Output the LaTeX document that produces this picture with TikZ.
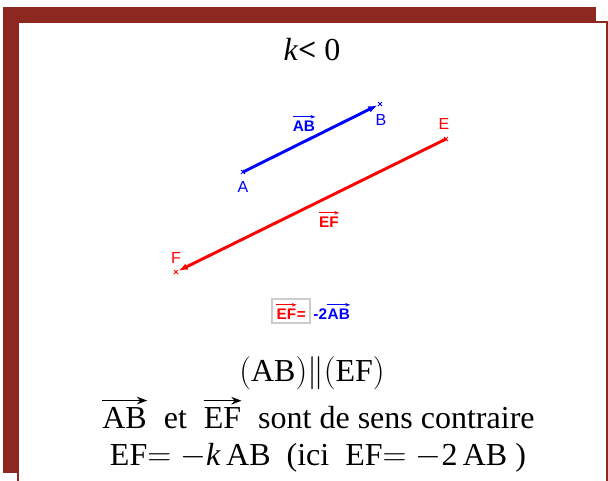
\documentclass[tikz,border=0pt]{standalone}
\usepackage[no-math]{fontspec}
\setmainfont{Liberation Serif}
\setsansfont{Liberation Sans}
\usetikzlibrary{arrows.meta,positioning}
\definecolor{cadre}{RGB}{140,40,32}
\definecolor{bleuvec}{RGB}{0,0,255}
\definecolor{rougevec}{RGB}{255,0,0}
% une fleche de vecteur au-dessus d'un texte
\newcommand{\fleche}[1]{\tikz[baseline=(m.base),x=1pt,y=1pt]{\node[inner sep=0pt] (m) {#1};
  \draw[line width=0.045em,-{Stealth[length=0.32em,width=0.24em]}] ([yshift=0.22em]m.north west) -- ([yshift=0.22em]m.north east);}}
\newcommand{\vsf}[1]{\fleche{\sffamily\bfseries #1}}

\begin{document}
\begin{tikzpicture}[x=0.75pt,y=-0.75pt,
  lettre/.style={inner sep=0pt,font=\sffamily\fontsize{12}{14}\selectfont},
  vlab/.style={inner sep=0pt,font=\sffamily\bfseries\fontsize{11.5}{13}\selectfont},
  texte/.style={inner sep=0pt,font=\fontsize{24}{28}\selectfont},
  croix/.style={line width=0.6pt}]
  \useasboundingbox (0,0) rectangle (608,480);

  % le cadre
  \fill[cadre] (3,7) rectangle (596,473);
  \filldraw[fill=white,draw=cadre,line width=1.5pt] (18,22) rectangle (607,495);

  % titre
  \node[texte] (titre) at (312,50) {\textit{k}\textbf{<} 0};

  % les points
  \coordinate (A) at (243,172);
  \coordinate (B) at (380,104);
  \coordinate (E) at (446,139);
  \coordinate (F) at (176,272);
  \foreach \p/\c in {A/bleuvec,B/bleuvec,E/rougevec,F/rougevec}
    \draw[croix,\c] (\p) ++(-2,-2) -- ++(4,4) ++(-4,0) -- ++(4,-4);

  % vecteur AB
  \draw[bleuvec,line width=2.2pt,-{Latex[length=7pt,width=5pt]},shorten >=2pt] (A) -- (B);
  \node[lettre,text=bleuvec] (nA) at (243,187) {A};
  \node[lettre,text=bleuvec] (nB) at (381,120) {B};
  \node[vlab,text=bleuvec] (vAB) at (304,123) {\vsf{AB}};

  % vecteur EF
  \draw[rougevec,line width=2.2pt,-{Latex[length=7pt,width=5pt]},shorten >=2pt] (E) -- (F);
  \node[lettre,text=rougevec] (nE) at (444,124) {E};
  \node[lettre,text=rougevec] (nF) at (176,258) {F};
  \node[vlab,text=rougevec] (vEF) at (329,219) {\vsf{EF}};

  % la relation
  \node[vlab,text=rougevec,draw=gray!40,line width=1pt,inner sep=3pt] (egal) at (291,311) {\vsf{EF}=};
  \node[vlab,text=bleuvec,right=2pt of egal] (moins2) {-2\vsf{AB}};

  % les conclusions
  \node[texte] (para) at (312,373) {$\bigl($AB$\bigr)\|\bigl($EF$\bigr)$};
  \node[texte] (sens) at (318,413) {\fleche{AB}\ \ et\ \ \fleche{EF}\ \ sont de sens contraire};
  \node[texte] (rel) at (318,458) {EF$=-$\textit{k}\,AB\ \ (ici\ \ EF$=-$2\,AB\ )};
\end{tikzpicture}
\end{document}
